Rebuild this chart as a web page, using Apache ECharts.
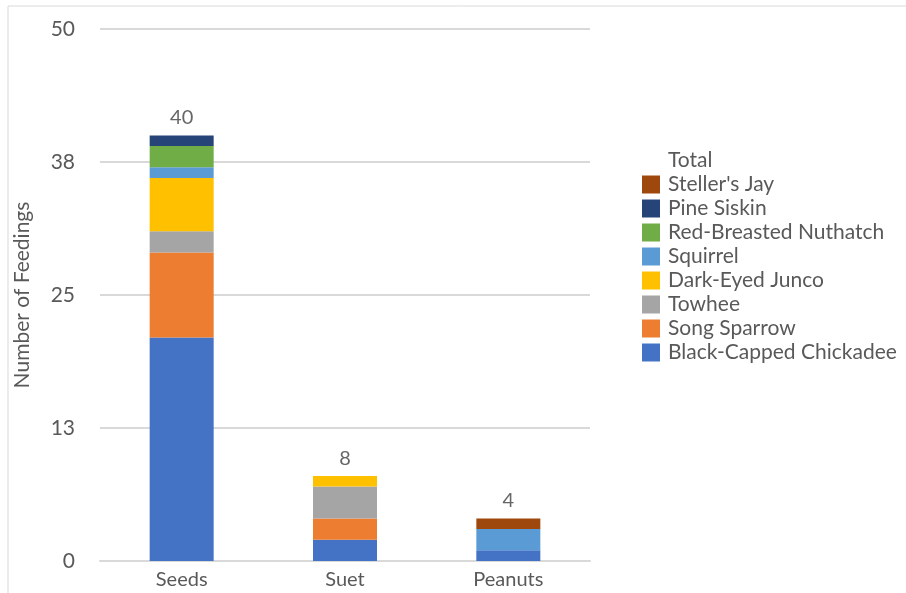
<!DOCTYPE html>
<html><head><meta charset="utf-8">
<script src="https://cdn.jsdelivr.net/npm/echarts@6/dist/echarts.min.js"></script>
<style>html,body{margin:0;padding:0;background:#fff}#c{width:906px;height:593px}</style>
</head><body><div id="c"></div>
<script>
const categories = ['Seeds', 'Suet', 'Peanuts'];
const chickadee = [21, 2, 1];
const songSparrow = [8, 2, 0];
const towhee = [2, 3, 0];
const junco = [5, 1, 0];
const squirrel = [1, 0, 2];
const nuthatch = [2, 0, 0];
const pineSiskin = [1, 0, 0];
const stellersJay = [0, 0, 1];
const totals = [40, 8, 4];
const yTicks = [0, 12.5, 25, 37.5, 50];

const font = 'Lato, "Open Sans", sans-serif';
const txt = '#595959';
const stackDefs = [
  ['Black-Capped Chickadee', chickadee, '#4472C4'],
  ['Song Sparrow', songSparrow, '#ED7D31'],
  ['Towhee', towhee, '#A5A5A5'],
  ['Dark-Eyed Junco', junco, '#FFC000'],
  ['Squirrel', squirrel, '#5B9BD5'],
  ['Red-Breasted Nuthatch', nuthatch, '#70AD47'],
  ['Pine Siskin', pineSiskin, '#264478'],
  ["Steller's Jay", stellersJay, '#9E480E']
];
const series = stackDefs.map(([n, d, c]) => ({
  name: n, type: 'bar', stack: 'all', data: d, barWidth: 64,
  itemStyle: { color: c }
}));
series.push({
  name: 'Total', type: 'scatter', data: totals, symbolSize: 1,
  itemStyle: { color: 'rgba(0,0,0,0)' },
  label: { show: true, position: 'top', distance: 7, color: '#404040', fontSize: 20, fontFamily: font }
});
const legendData = [{ name: 'Total', itemStyle: { opacity: 0 } }]
  .concat(stackDefs.slice().reverse().map(s => ({ name: s[0] })));

const chart = echarts.init(document.getElementById('c'));
chart.setOption({
  animation: false,
  graphic: [{ type: 'rect', shape: { x: 8, y: 6, width: 1000, height: 1000 }, style: { fill: 'none', stroke: '#d9d9d9', lineWidth: 1 } }],
  grid: { left: 100, right: 316, top: 29, bottom: 32, outerBoundsMode: 'none', containLabel: false },
  legend: {
    orient: 'vertical', left: 637, top: 145, itemWidth: 18, itemHeight: 18, itemGap: 3,
    icon: 'rect', data: legendData,
    textStyle: { color: txt, fontSize: 21, lineHeight: 20, fontFamily: font, padding: [0, 0, 0, 3] }
  },
  xAxis: {
    type: 'category', data: categories,
    axisLine: { lineStyle: { color: '#d9d9d9', width: 2 } },
    axisTick: { show: false },
    axisLabel: { color: txt, fontSize: 20, fontFamily: font, margin: 9 }
  },
  yAxis: {
    type: 'value', min: yTicks[0], max: yTicks[yTicks.length - 1], interval: yTicks[1] - yTicks[0],
    name: 'Number of Feedings', nameLocation: 'middle', nameGap: 67,
    nameTextStyle: { color: txt, fontSize: 21, fontFamily: font },
    axisLabel: { color: txt, fontSize: 21, fontFamily: font, margin: 25, formatter: v => String(Math.round(v)) },
    splitLine: { lineStyle: { color: '#d9d9d9', width: 2 } },
    axisLine: { show: false }, axisTick: { show: false }
  },
  series: series
});
</script></body></html>
